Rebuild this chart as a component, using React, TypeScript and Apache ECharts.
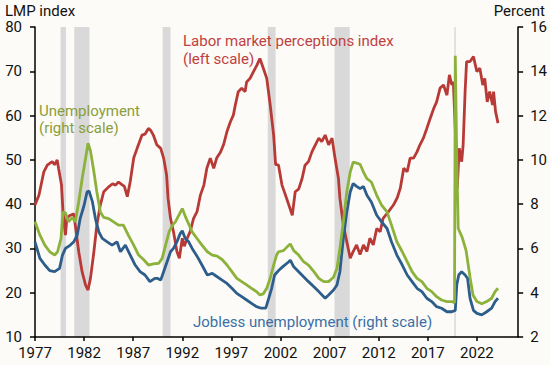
import React, { useEffect, useRef } from 'react';
import * as echarts from 'echarts';

const BG = '#fcfbf7';
const RED = '#b83a37';
const GREEN = '#8cb23b';
const BLUE = '#2c5d8b';

const xTickYears = [1977, 1982, 1987, 1992, 1997, 2002, 2007, 2012, 2017, 2022];

// Recession shading [start, end] in decimal years
const recessions: [number, number][] = [
  [1979.6, 1980.15], [1981.0, 1982.55], [1990.0, 1990.8],
  [2000.7, 2001.5], [2007.5, 2009.05], [2019.7, 2019.85],
];

// Labor market perceptions index (left scale)
const lmp: [number, number][] = [
  [1977.0, 39.8], [1977.4, 42], [1977.9, 47.3], [1978.25, 48.8], [1978.75, 49.6], [1979.0, 48.9],
  [1979.26, 50], [1979.4, 48.1], [1979.7, 44.3], [1979.85, 38.3], [1980.1, 33], [1980.25, 36.9],
  [1980.6, 37.5], [1980.95, 37.8], [1981.1, 35.3], [1981.45, 29.3], [1981.8, 24.7], [1982.15, 21.7],
  [1982.4, 20.6], [1982.65, 23.3], [1983.0, 29.3], [1983.3, 35.3], [1983.65, 39.8], [1984.0, 42.8],
  [1984.5, 43.9], [1984.9, 44.6], [1985.2, 44.3], [1985.5, 45.0], [1985.85, 44.4], [1986.1, 44.0],
  [1986.4, 41.7], [1986.7, 45.1], [1987.05, 50.4], [1987.4, 52.6], [1987.9, 55.6], [1988.2, 55.8],
  [1988.55, 57.1], [1988.8, 56.6], [1989.05, 55.6], [1989.4, 53.4], [1989.8, 52.6], [1990.1, 50.4],
  [1990.4, 46.6], [1990.55, 41.3], [1990.8, 36.8], [1991.1, 33.8], [1991.45, 29.3], [1991.7, 27.8],
  [1992.0, 32.3], [1992.2, 30.5], [1992.5, 32.3], [1992.8, 33.8], [1993.15, 36.8], [1993.5, 38.3],
  [1993.85, 42.1], [1994.2, 44.3], [1994.5, 48.1], [1994.85, 50.4], [1995.2, 48.1], [1995.5, 50.4],
  [1995.9, 51.8], [1996.2, 53.4], [1996.55, 56.4], [1996.9, 58.6], [1997.2, 60.1], [1997.4, 62.4],
  [1997.7, 65.4], [1998.05, 66.2], [1998.4, 65.4], [1998.55, 67.6], [1998.9, 68.4], [1999.25, 69.9],
  [1999.6, 71.4], [1999.9, 72.9], [2000.25, 70.7], [2000.6, 68.4], [2000.95, 62.4], [2001.3, 55.6],
  [2001.5, 49.0], [2001.8, 48.8], [2002.15, 44.3], [2002.5, 42.1], [2002.85, 39.8], [2003.2, 37.5],
  [2003.5, 42.8], [2003.85, 43.4], [2004.2, 45.8], [2004.5, 48.8], [2004.85, 49.6], [2005.2, 51.8],
  [2005.55, 53.4], [2005.9, 54.9], [2006.2, 54.1], [2006.55, 55.6], [2006.9, 53.4], [2007.25, 54.9],
  [2007.55, 50.4], [2007.9, 45.8], [2008.05, 41.3], [2008.4, 35.3], [2008.75, 31.5], [2009.1, 27.8],
  [2009.4, 29.3], [2009.75, 30.8], [2010.1, 28.6], [2010.45, 30.8], [2010.8, 29.3], [2011.1, 32.3],
  [2011.45, 30.8], [2011.8, 34.5], [2012.15, 33.8], [2012.45, 36.8], [2013.0, 38.3], [2013.5, 39.8],
  [2013.9, 41.5], [2014.2, 43.6], [2014.55, 48.1], [2014.9, 47.3], [2015.2, 50.4], [2015.55, 50.4],
  [2015.9, 51.8], [2016.2, 53.4], [2016.55, 54.9], [2016.9, 57.1], [2017.25, 59.4], [2017.6, 61.6],
  [2017.9, 63.1], [2018.25, 66.2], [2018.6, 66.9], [2018.95, 64.6], [2019.2, 69.2], [2019.45, 66.9],
  [2019.6, 67.6], [2019.85, 54.1], [2020.0, 43.6], [2020.2, 52.6], [2020.45, 49.6], [2020.6, 53.4],
  [2020.8, 65.4], [2020.95, 72.2], [2021.3, 72.2], [2021.65, 73.3], [2022.0, 69.9], [2022.3, 70.7],
  [2022.6, 66.9], [2022.8, 68.4], [2023.05, 63.1], [2023.3, 65.4], [2023.6, 62.4], [2023.7, 65.4],
  [2023.9, 60.9], [2024.15, 58.3],
];

// Unemployment rate, percent (right scale)
const unemployment: [number, number][] = [
  [1977.0, 7.2], [1977.5, 6.6], [1978.0, 6.15], [1978.5, 5.85], [1979.0, 5.7], [1979.3, 5.85],
  [1979.65, 6.45], [1979.85, 7.65], [1980.1, 7.6], [1980.4, 7.2], [1980.8, 7.4], [1981.1, 7.2],
  [1981.45, 8.1], [1981.8, 9.15], [1982.15, 10.07], [1982.4, 10.75], [1982.65, 10.4], [1983.0, 9.45],
  [1983.3, 8.55], [1983.65, 7.65], [1984.0, 7.4], [1984.5, 7.35], [1985.0, 7.2], [1985.5, 7.05],
  [1986.0, 7.05], [1986.5, 6.6], [1987.05, 6.15], [1987.55, 5.7], [1988.05, 5.5], [1988.55, 5.25],
  [1989.05, 5.3], [1989.6, 5.33], [1989.95, 5.55], [1990.3, 6.15], [1990.65, 6.75], [1991.0, 7.05],
  [1991.3, 7.2], [1991.65, 7.5], [1992.0, 7.8], [1992.35, 7.4], [1992.7, 7.05], [1993.0, 6.75],
  [1993.5, 6.45], [1994.0, 6.15], [1994.55, 5.85], [1995.05, 5.7], [1995.55, 5.65], [1996.05, 5.5],
  [1996.55, 5.25], [1997.05, 4.95], [1997.55, 4.65], [1998.05, 4.5], [1998.55, 4.35], [1999.05, 4.2],
  [1999.55, 4.05], [1999.9, 3.9], [2000.25, 3.95], [2000.6, 4.2], [2000.95, 4.65], [2001.3, 5.25],
  [2001.6, 5.7], [2001.8, 5.85], [2002.3, 5.9], [2002.85, 6.15], [2003.0, 6.2], [2003.35, 5.9],
  [2003.85, 5.7], [2004.35, 5.4], [2004.85, 5.25], [2005.4, 4.95], [2005.9, 4.65], [2006.4, 4.5],
  [2006.9, 4.5], [2007.4, 4.7], [2007.75, 5.1], [2008.05, 6.0], [2008.4, 7.2], [2008.75, 8.55],
  [2009.1, 9.45], [2009.4, 9.9], [2009.75, 9.85], [2010.1, 9.8], [2010.45, 9.45], [2010.8, 9.15],
  [2011.25, 9.0], [2011.8, 8.4], [2012.3, 7.95], [2012.85, 7.65], [2013.3, 7.05], [2013.85, 6.3],
  [2014.4, 5.85], [2014.9, 5.4], [2015.4, 4.95], [2015.9, 4.65], [2016.4, 4.5], [2016.9, 4.2],
  [2017.4, 4.05], [2017.9, 3.82], [2018.4, 3.67], [2018.95, 3.6], [2019.45, 3.6], [2019.72, 3.55],
  [2019.8, 14.7], [2019.95, 10.0], [2020.1, 6.9], [2020.5, 6.5], [2020.9, 5.9], [2021.3, 4.7],
  [2021.6, 3.9], [2022.0, 3.6], [2022.5, 3.5], [2023.0, 3.6], [2023.5, 3.75], [2023.85, 4.05],
  [2024.15, 4.2],
];

// Jobless unemployment, percent (right scale)
const jobless: [number, number][] = [
  [1977.0, 6.3], [1977.5, 5.55], [1978.0, 5.25], [1978.5, 5.0], [1979.0, 4.95], [1979.5, 5.1],
  [1979.8, 5.7], [1980.1, 6.0], [1980.6, 6.15], [1980.95, 6.3], [1981.3, 6.6], [1981.6, 7.35],
  [1982.0, 7.95], [1982.3, 8.55], [1982.5, 8.6], [1982.85, 8.1], [1983.15, 7.35], [1983.5, 6.75],
  [1983.85, 6.45], [1984.35, 6.3], [1984.85, 6.15], [1985.35, 6.3], [1985.7, 5.85], [1986.2, 6.15],
  [1986.7, 5.7], [1987.2, 5.25], [1987.7, 4.95], [1988.2, 4.8], [1988.7, 4.5], [1989.2, 4.65],
  [1989.45, 4.65], [1989.8, 4.57], [1990.1, 4.95], [1990.45, 5.4], [1990.8, 5.85], [1991.1, 6.0],
  [1991.45, 6.3], [1991.8, 6.68], [1992.0, 6.8], [1992.3, 6.45], [1992.65, 6.3], [1993.0, 6.0],
  [1993.5, 5.65], [1994.0, 5.25], [1994.55, 4.8], [1995.05, 4.87], [1995.55, 4.72], [1996.05, 4.57],
  [1996.55, 4.42], [1997.05, 4.2], [1997.55, 3.97], [1998.05, 3.82], [1998.55, 3.67], [1999.05, 3.52],
  [1999.55, 3.37], [2000.05, 3.3], [2000.5, 3.3], [2000.75, 3.67], [2001.1, 4.2], [2001.4, 4.8],
  [2001.8, 5.0], [2002.3, 5.2], [2002.85, 5.4], [2003.0, 5.47], [2003.35, 5.17], [2003.85, 4.95],
  [2004.35, 4.72], [2004.85, 4.5], [2005.4, 4.27], [2005.9, 4.05], [2006.4, 3.82], [2006.55, 3.75],
  [2006.9, 3.9], [2007.4, 4.12], [2007.75, 4.35], [2008.05, 4.95], [2008.4, 6.45], [2008.75, 7.65],
  [2009.1, 8.55], [2009.4, 8.93], [2009.75, 8.8], [2010.1, 8.7], [2010.45, 8.8], [2010.8, 8.4],
  [2011.25, 8.1], [2011.8, 7.5], [2012.3, 7.2], [2012.85, 6.9], [2013.3, 6.3], [2013.85, 5.7],
  [2014.4, 5.25], [2014.9, 4.8], [2015.4, 4.5], [2015.9, 4.2], [2016.4, 4.05], [2016.9, 3.75],
  [2017.4, 3.6], [2017.9, 3.37], [2018.4, 3.3], [2018.95, 3.14], [2019.45, 3.14], [2019.8, 3.2],
  [2019.95, 4.35], [2020.15, 4.8], [2020.45, 4.95], [2020.8, 4.8], [2021.05, 4.65], [2021.3, 3.75],
  [2021.65, 3.2], [2022.0, 3.07], [2022.5, 3.0], [2023.0, 3.14], [2023.5, 3.3], [2023.85, 3.6],
  [2024.15, 3.75],
];

const FONT = 'Roboto, "Noto Sans", sans-serif';
const FS = 15;

export default function App() {
  const ref = useRef<HTMLDivElement>(null);
  useEffect(() => {
    document.body.style.margin = '0';
    document.body.style.background = BG;
    const chart = echarts.init(ref.current!, null, { renderer: 'svg' });
    const axisLineStyle = { color: '#000', width: 1.5 };
    const labelStyle = { color: '#111', fontSize: FS, fontFamily: FONT };
    const txt = (text: string, x: number, y: number, fill: string) => ({
      type: 'text', x, y, z: 100, zlevel: 0,
      style: { text, fill, font: `${FS}px ${FONT}`, verticalAlign: 'middle' },
    });
    chart.setOption({
      animation: false,
      backgroundColor: BG,
      grid: { left: 35, right: 30, top: 27, bottom: 28 },
      xAxis: {
        type: 'value',
        min: 1977,
        max: 2026.2,
        interval: 5,
        axisLine: { show: true, onZero: false, lineStyle: axisLineStyle },
        axisTick: { show: true, length: 4, lineStyle: axisLineStyle },
        axisLabel: {
          ...labelStyle,
          margin: 8,
          showMaxLabel: false,
          formatter: (v: number) => (xTickYears.includes(Math.round(v * 10) / 10) ? String(v) : ''),
        },
        splitLine: { show: false },
      },
      yAxis: [
        {
          type: 'value', position: 'left', min: 10, max: 80, interval: 10,
          axisLine: { show: true, lineStyle: axisLineStyle },
          axisTick: { show: true, length: 5, lineStyle: axisLineStyle },
          axisLabel: { ...labelStyle, margin: 13 },
          splitLine: { show: false },
        },
        {
          type: 'value', position: 'right', min: 2, max: 16, interval: 2,
          axisLine: { show: true, lineStyle: axisLineStyle },
          axisTick: { show: true, length: 5, lineStyle: axisLineStyle },
          axisLabel: { ...labelStyle, margin: 12 },
          splitLine: { show: false },
        },
      ],
      series: [
        {
          type: 'custom',
          silent: true,
          z: 0,
          xAxisIndex: 0,
          yAxisIndex: 0,
          encode: { x: [0, 1] },
          data: recessions,
          renderItem: (params: any, api: any) => {
            const p1 = api.coord([api.value(0), 80]);
            const p2 = api.coord([api.value(1), 10]);
            return {
              type: 'rect',
              shape: { x: p1[0], y: p1[1], width: p2[0] - p1[0], height: p2[1] - p1[1] },
              style: { fill: '#d9d9d9' },
            };
          },
        },
        {
          type: 'line', name: 'LMP', yAxisIndex: 0, data: lmp, symbol: 'none',
          lineStyle: { color: RED, width: 2.8 }, itemStyle: { color: RED }, z: 2,
        },
        {
          type: 'line', name: 'Jobless', yAxisIndex: 1, data: jobless, symbol: 'none',
          lineStyle: { color: BLUE, width: 2.8 }, itemStyle: { color: BLUE }, z: 3,
        },
        {
          type: 'line', name: 'Unemployment', yAxisIndex: 1, data: unemployment, symbol: 'none',
          lineStyle: { color: GREEN, width: 2.8 }, itemStyle: { color: GREEN }, z: 4,
        },
      ],
      graphic: [
        { type: 'text', left: 5, top: 3, z: 100, style: { text: 'LMP index', fill: '#111', font: `${FS}px ${FONT}` } },
        { type: 'text', right: 5, top: 3, z: 100, style: { text: 'Percent', fill: '#111', font: `${FS}px ${FONT}` } },
        txt('Labor market perceptions index', 183, 41, '#c0413f'),
        txt('(left scale)', 183, 59, '#c0413f'),
        txt('Unemployment', 39, 111, '#8a9e3c'),
        txt('(right scale)', 39, 128, '#8a9e3c'),
        txt('Jobless unemployment (right scale)', 193, 322, '#3a6fa6'),
      ],
    });
    return () => chart.dispose();
  }, []);
  return <div ref={ref} style={{ position: 'fixed', left: 0, top: 0, width: 550, height: 365 }} />;
}
